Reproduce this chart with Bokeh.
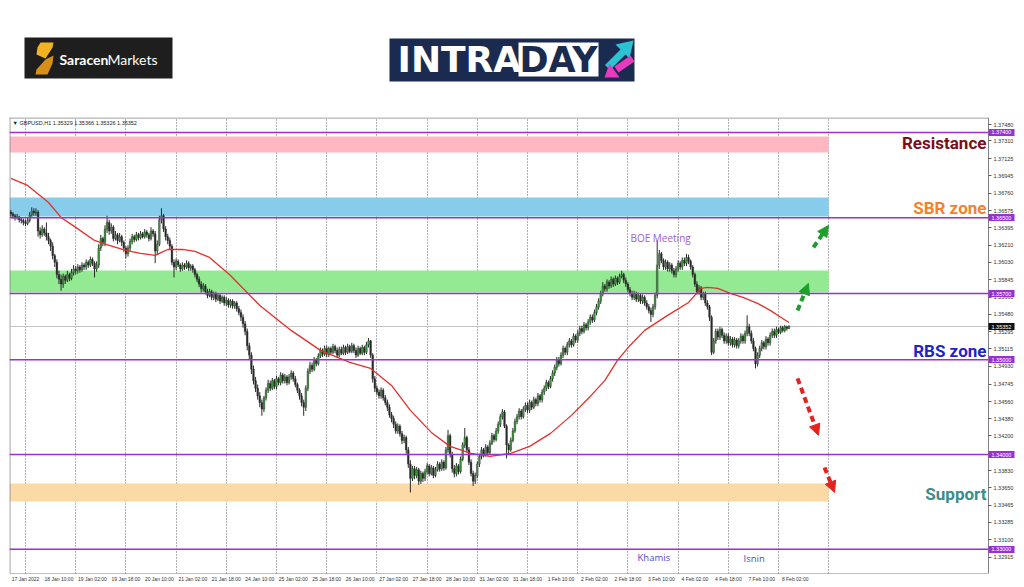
from bokeh.plotting import figure
from bokeh.layouts import column
from bokeh.models import (Range1d, FixedTicker, PrintfTickFormatter, BoxAnnotation,
                          Label, Arrow, NormalHead, ColumnDataSource, LinearAxis)
from bokeh.core.properties import value
from bokeh.embed import file_html
from bokeh.resources import INLINE

# ---------------- data (prices in units of 0.0001 above 1.3) ----------------
BASE = 1.3
SCALE = 10000.0
symbol_header = "\u25BC GBPUSD,H1  1.35329 1.35366 1.35326 1.35352"
first_bar = -7
first_open = 656
closes = [
    654, 652, 650, 651, 648, 647, 645,
    644, 647, 653, 657, 655, 656, 636, 632, 638, 634, 630, 626, 620, 610, 603, 590, 585, 580, 588, 584, 590, 586, 592, 596,
    594, 598, 595, 600, 598, 603, 600, 606, 602, 596, 600, 618, 628, 624, 638, 645, 636, 640, 628, 632, 626, 630, 624, 618,
    612, 618, 625, 630, 627, 632, 629, 633, 630, 635, 632, 628, 636, 633, 615, 622, 648, 652, 638, 630, 626, 620, 603, 598,
    604, 600, 596, 600, 598, 602, 597, 599, 595, 590, 585, 580, 575, 578, 572, 568, 572, 566, 570, 564, 568, 562, 566, 560,
    563, 558, 562, 557, 560, 554, 550, 545, 538, 530, 515, 505, 490, 478, 470, 462, 455, 448, 460, 468, 475, 470, 478, 472,
    480, 476, 484, 478, 482, 476, 482, 486, 480, 474, 468, 462, 455, 450, 470, 488, 494, 490, 500, 496, 504, 510, 506, 512,
    506, 512, 508, 514, 510, 505, 511, 507, 513, 508, 514, 509, 515, 510, 505, 512, 507, 513, 508, 516, 520, 505, 480, 470,
    466, 462, 468, 460, 455, 450, 442, 438, 432, 425, 430, 422, 415, 418, 405, 390, 375, 385, 378, 384, 372, 380, 375, 382,
    388, 380, 386, 378, 384, 390, 385, 392, 386, 405, 420, 400, 385, 380, 388, 382, 395, 410, 418, 405, 392, 380, 372, 378,
    390, 398, 405, 400, 408, 402, 412, 420, 416, 425, 432, 440, 445, 430, 410, 405, 415, 425, 435, 440, 446, 440, 448, 452,
    447, 455, 450, 458, 454, 462, 458, 466, 470, 476, 472, 480, 486, 492, 500, 496, 505, 512, 508, 516, 520, 516, 525, 521,
    528, 533, 530, 537, 534, 540, 545, 542, 550, 556, 562, 570, 578, 575, 582, 578, 585, 580, 586, 582, 588, 590, 584, 580,
    574, 570, 566, 570, 564, 568, 562, 566, 560, 556, 552, 548, 556, 568, 600, 612, 605, 598, 603, 596, 600, 594, 590, 596,
    602, 598, 605, 602, 608, 604, 598, 590, 580, 572, 576, 566, 570, 560, 556, 545, 508, 520, 530, 524, 532, 526, 520, 525,
    518, 522, 516, 521, 515, 520, 525, 520, 528, 535, 528, 520, 512, 496, 505, 512, 518, 514, 522, 518, 526, 530, 526, 532,
    529, 534, 531, 535, 533, 535.2,
]
highs = [
    658, 656, 654, 654, 652, 650, 649,
    648, 650, 656, 661, 660, 660, 658, 640, 642, 640, 645, 634, 628, 624, 612, 606, 594, 590, 591, 590, 594, 592, 596, 600,
    599, 601, 600, 603, 602, 606, 605, 609, 608, 604, 604, 622, 632, 630, 642, 652, 648, 644, 642, 636, 634, 634, 632, 626,
    620, 621, 628, 633, 632, 635, 634, 636, 635, 638, 637, 634, 640, 638, 636, 626, 652, 660, 654, 641, 633, 629, 622, 606,
    607, 606, 602, 603, 602, 605, 604, 601, 601, 597, 592, 588, 583, 581, 580, 575, 575, 574, 572, 572, 570, 570, 568, 568,
    566, 565, 564, 564, 562, 562, 557, 553, 548, 541, 533, 518, 508, 494, 482, 474, 466, 458, 462, 471, 479, 478, 481, 480,
    483, 482, 487, 486, 485, 484, 485, 489, 488, 483, 476, 470, 465, 458, 473, 491, 498, 497, 503, 502, 507, 513, 512, 515,
    515, 514, 514, 517, 516, 513, 514, 514, 516, 515, 517, 516, 518, 517, 513, 515, 514, 516, 515, 519, 523, 521, 507, 483,
    473, 469, 471, 470, 463, 458, 453, 445, 441, 435, 433, 432, 425, 421, 420, 408, 394, 388, 388, 387, 386, 383, 382, 385,
    391, 390, 389, 388, 387, 393, 392, 395, 394, 408, 426, 422, 403, 389, 391, 390, 398, 413, 428, 420, 408, 395, 383, 381,
    393, 401, 408, 407, 411, 410, 415, 423, 422, 428, 435, 443, 448, 447, 432, 412, 418, 428, 438, 443, 449, 448, 451, 455,
    455, 458, 457, 461, 460, 465, 464, 469, 473, 479, 478, 483, 489, 495, 503, 503, 508, 515, 514, 519, 523, 522, 528, 527,
    531, 536, 536, 540, 539, 543, 548, 548, 553, 559, 565, 573, 582, 580, 585, 584, 588, 587, 589, 588, 591, 594, 592, 587,
    582, 577, 573, 573, 572, 571, 570, 569, 568, 563, 559, 555, 559, 571, 626, 616, 614, 607, 606, 605, 603, 602, 597, 599,
    605, 604, 608, 608, 612, 611, 606, 600, 592, 583, 579, 578, 572, 572, 563, 558, 547, 523, 533, 533, 535, 534, 529, 528,
    528, 525, 524, 524, 523, 523, 528, 527, 531, 547, 538, 531, 523, 514, 508, 515, 521, 520, 525, 524, 529, 533, 533, 535,
    534, 536, 536, 537, 536, 536.6,
]
lows = [
    651, 649, 647, 648, 645, 644, 642,
    641, 642, 645, 651, 652, 652, 630, 628, 630, 631, 626, 622, 615, 606, 598, 586, 580, 573, 576, 580, 582, 583, 584, 589,
    590, 591, 592, 593, 595, 595, 597, 598, 599, 587, 593, 597, 615, 620, 620, 634, 632, 633, 625, 626, 622, 624, 620, 614,
    607, 609, 615, 622, 624, 625, 626, 627, 628, 628, 629, 625, 626, 630, 602, 611, 620, 644, 635, 626, 622, 616, 600, 587,
    595, 598, 593, 594, 595, 596, 594, 594, 592, 587, 582, 577, 571, 572, 569, 565, 566, 563, 563, 561, 562, 559, 560, 557,
    557, 555, 555, 554, 554, 551, 547, 541, 534, 526, 510, 500, 485, 474, 466, 458, 450, 441, 445, 457, 465, 467, 468, 469,
    469, 473, 473, 475, 475, 473, 474, 479, 477, 471, 465, 458, 451, 441, 446, 467, 485, 487, 488, 493, 494, 502, 503, 504,
    503, 503, 505, 506, 507, 502, 503, 505, 505, 505, 506, 507, 507, 507, 502, 503, 505, 505, 505, 506, 513, 502, 476, 466,
    463, 459, 459, 457, 452, 446, 439, 434, 428, 422, 422, 419, 411, 412, 401, 386, 360, 372, 374, 375, 368, 369, 371, 372,
    379, 377, 378, 375, 376, 382, 382, 383, 383, 384, 402, 397, 381, 376, 377, 379, 380, 393, 407, 402, 389, 377, 367, 369,
    375, 387, 395, 397, 398, 399, 400, 410, 413, 414, 422, 429, 437, 428, 396, 400, 403, 413, 423, 432, 437, 437, 438, 445,
    444, 444, 447, 448, 451, 451, 455, 455, 463, 467, 469, 470, 477, 483, 489, 493, 494, 502, 505, 505, 513, 513, 514, 518,
    518, 525, 527, 528, 531, 531, 537, 539, 540, 547, 553, 559, 567, 572, 572, 575, 576, 577, 578, 579, 580, 586, 581, 577,
    571, 567, 563, 563, 561, 561, 559, 559, 557, 553, 549, 540, 545, 553, 565, 596, 602, 595, 595, 593, 593, 591, 587, 587,
    593, 595, 595, 599, 599, 601, 595, 587, 577, 569, 569, 563, 563, 557, 553, 541, 505, 506, 517, 521, 521, 523, 517, 517,
    515, 515, 513, 513, 512, 512, 517, 517, 517, 525, 525, 517, 509, 491, 493, 502, 509, 511, 511, 515, 515, 523, 523, 523,
    527, 527, 529, 529, 531, 532.6,
]
assert len(closes) == len(highs) == len(lows) == 373

ma_bars = [-7, 1, 11, 17, 24, 33, 40, 48, 55, 62, 65, 68, 75, 81, 88, 98, 112, 127, 141, 155,
           165, 175, 184, 194, 203, 213, 222, 232, 241, 251, 261, 270, 277, 283, 289, 296, 307,
           317, 323, 326, 331, 337, 343, 350, 356, 362, 365]
ma_prices = [1.36915, 1.36841, 1.36661, 1.36503, 1.36398, 1.36260, 1.36208, 1.36155, 1.36123,
             1.36102, 1.36134, 1.36165, 1.36165, 1.36144, 1.36081, 1.35891, 1.35574, 1.35311,
             1.35100, 1.34973, 1.34910, 1.34730, 1.34467, 1.34234, 1.34087, 1.34013, 1.33981,
             1.34013, 1.34087, 1.34224, 1.34414, 1.34614, 1.34783, 1.34994, 1.35152, 1.35311,
             1.35469, 1.35606, 1.35754, 1.35764, 1.35754, 1.35701, 1.35659, 1.35596, 1.35522,
             1.35437, 1.35395]

level_prices = [1.37400, 1.36500, 1.35700, 1.35000, 1.34000, 1.33000]
current_price = 1.35352

zone_tops = [1.37358, 1.36714, 1.35944, 1.33696]
zone_bottoms = [1.37189, 1.36514, 1.35712, 1.33506]
zone_colors = ["#FFB7C2", "#87CDEB", "#93EA93", "#FDD9A6"]
zone_end_bar = 384

zone_texts = ["Resistance", "SBR zone", "RBS zone", "Support"]
zone_text_prices = [1.37284, 1.36598, 1.35090, 1.33580]
zone_text_colors = ["#7B0F1A", "#F5812F", "#1F24C8", "#3B8C8C"]

day_separator_bars = list(range(0, 385, 24))
x_label_bars = [-6] + list(range(10, 363, 16))
x_labels = ["17 Jan 2022", "18 Jan 10:00", "19 Jan 02:00", "19 Jan 18:00", "20 Jan 10:00",
            "21 Jan 02:00", "21 Jan 18:00", "24 Jan 10:00", "25 Jan 02:00", "25 Jan 18:00",
            "26 Jan 10:00", "27 Jan 02:00", "27 Jan 18:00", "28 Jan 10:00", "31 Jan 02:00",
            "31 Jan 18:00", "1 Feb 10:00", "2 Feb 02:00", "2 Feb 18:00", "3 Feb 10:00",
            "4 Feb 02:00", "4 Feb 18:00", "7 Feb 10:00", "8 Feb 02:00"]
y_tick_values = [1.37480, 1.37310, 1.37125, 1.36945, 1.36760, 1.36575, 1.36395, 1.36210,
                 1.36030, 1.35845, 1.35660, 1.35480, 1.35295, 1.35115, 1.34930, 1.34745,
                 1.34560, 1.34380, 1.34200, 1.34015, 1.33830, 1.33650, 1.33465, 1.33285,
                 1.33100, 1.32915, 1.32735]

# ---------------- header (logos) ----------------
# same left border as the chart below, so both frames line up
header = figure(width=1024, height=117, x_range=Range1d(9, 1024), y_range=Range1d(117, 0),
                x_axis_type=None, y_axis_type=None, output_backend="svg",
                toolbar_location=None, min_border=0, min_border_left=9)
header.grid.visible = False
header.outline_line_color = None
header.background_fill_color = "white"
header.border_fill_color = "white"

# Saracen Markets logo
header.quad(left=[24], right=[172], top=[37], bottom=[78], fill_color="#1E1E1E", line_color=None)
header.patch([40, 53, 52, 45, 36, 37], [42, 42, 47, 58, 54, 47], fill_color="#F2B320", line_color=None)
header.patch([45, 53, 52, 47, 35, 36], [59, 55, 63, 74, 74, 69], fill_color="#D68F17", line_color=None)
header.text(x=[59], y=[59], text=["Saracen"], text_font=value("Lato"), text_font_style="bold",
            text_font_size="14px", text_color="white", text_baseline="middle", text_align="left")
header.text(x=[107], y=[59], text=["Markets"], text_font=value("Lato"),
            text_font_size="14px", text_color="white", text_baseline="middle", text_align="left")

# INTRADAY logo
header.quad(left=[389], right=[634], top=[38], bottom=[81], fill_color="#1B2B4F", line_color=None)
header.quad(left=[518], right=[598], top=[42], bottom=[76], fill_color="white", line_color=None)
header.text(x=[397], y=[59], text=["INTRA"], text_font=value("DejaVu Sans"), text_font_style="bold",
            text_font_size="36px", text_color="white", text_baseline="middle", text_align="left")
header.text(x=[558], y=[59], text=["DAY"], text_font=value("DejaVu Sans"), text_font_style="bold",
            text_font_size="35px", text_color="#1B2B4F", text_baseline="middle", text_align="center")
header.line([607, 623], [67, 51], line_color="#2BC3D3", line_width=7)
header.patch([633, 615, 629], [40, 44, 58], fill_color="#2BC3D3", line_color=None)
header.line([632, 616], [58, 69], line_color="#E83ABF", line_width=7)
header.patch([604, 609, 619], [77, 63, 77], fill_color="#E83ABF", line_color=None)

# ---------------- price chart ----------------
# frame spans the whole width; the price scale is a fixed-location axis at the chart's right edge
x_lo, x_hi = -7.649, 477.60
price_axis_x = 460.39
y_lo, y_hi = 1.32745, 1.37558
chart = figure(width=1024, height=470, x_range=Range1d(x_lo, x_hi),
               y_range=Range1d(y_lo, y_hi), y_axis_location=None,
               output_backend="svg", toolbar_location=None,
               min_border_left=9, min_border_right=0, min_border_top=0, min_border_bottom=14)
chart.background_fill_color = "white"
chart.border_fill_color = "white"
chart.outline_line_color = None
chart.ygrid.visible = False
chart.xgrid.ticker = FixedTicker(ticks=day_separator_bars)
chart.xgrid.grid_line_color = "#606060"
chart.xgrid.grid_line_dash = "1 2"
chart.xgrid.grid_line_width = 1

# chart border (left, top, bottom)
chart.segment(x0=[x_lo + 0.2, x_lo, x_lo], y0=[y_lo, y_hi - 0.00005, y_lo],
              x1=[x_lo + 0.2, price_axis_x, price_axis_x], y1=[y_hi, y_hi - 0.00005, y_lo],
              line_color="#808080", line_width=1)

# zones
for top, bot, col in zip(zone_tops, zone_bottoms, zone_colors):
    chart.add_layout(BoxAnnotation(left=x_lo, right=zone_end_bar, top=top, bottom=bot,
                                   fill_color=col, fill_alpha=1.0, line_color=None, level="underlay"))

# current price line
chart.segment(x0=[x_lo], y0=[current_price], x1=[price_axis_x], y1=[current_price],
              line_color="#C4C4C4", line_width=1)

# candles
n = len(closes)
bars = [first_bar + i for i in range(n)]
opens = [first_open] + closes[:-1]
to_p = lambda v: BASE + v / SCALE
o_p = [to_p(v) for v in opens]
c_p = [to_p(v) for v in closes]
h_p = [to_p(v) for v in highs]
l_p = [to_p(v) for v in lows]
src = ColumnDataSource(dict(
    x=bars, o=o_p, c=c_p, h=h_p, l=l_p,
    top=[max(a, b) for a, b in zip(o_p, c_p)],
    bottom=[min(a, b) for a, b in zip(o_p, c_p)],
    fill=["#3E9E3E" if c >= o else "#2A2A2A" for o, c in zip(o_p, c_p)],
))
chart.segment(x0="x", y0="l", x1="x", y1="h", source=src, line_color="#2A2A2A", line_width=1)
chart.vbar(x="x", width=0.8, top="top", bottom="bottom", source=src,
           fill_color="fill", line_color="#2A2A2A", line_width=0.4)

# moving average
chart.line(ma_bars, ma_prices, line_color="#E2302C", line_width=1.3)

# level lines
chart.segment(x0=[x_lo] * len(level_prices), y0=level_prices,
              x1=[price_axis_x] * len(level_prices), y1=level_prices,
              line_color="#9B30D0", line_width=1.5)

# price scale
price_axis = LinearAxis(fixed_location=price_axis_x, ticker=FixedTicker(ticks=y_tick_values),
                        formatter=PrintfTickFormatter(format="%.5f"),
                        axis_line_color="#808080", major_tick_line_color="#606060",
                        major_tick_out=3, major_tick_in=0, minor_tick_line_color=None,
                        major_label_standoff=2, major_label_text_color="#333333",
                        major_label_text_font_size="5.5px", major_label_text_font="Liberation Sans")
chart.add_layout(price_axis, "right")

# highlighted price tags: thick ticks form coloured tags behind white labels
for ticks, tag_color in ((level_prices, "#9B30D0"), ([current_price], "#111111")):
    tag_axis = LinearAxis(fixed_location=price_axis_x, ticker=FixedTicker(ticks=ticks),
                          formatter=PrintfTickFormatter(format="%.5f"),
                          axis_line_color=None, major_tick_line_color=tag_color,
                          major_tick_line_width=7, major_tick_out=26, major_tick_in=0,
                          minor_tick_line_color=None, major_label_standoff=-23,
                          major_label_text_color="white", major_label_text_font_size="5.5px",
                          major_label_text_font="Liberation Sans")
    chart.add_layout(tag_axis, "right")

# time axis
x_tick_pos = [b + 6 for b in x_label_bars]
chart.xaxis.ticker = FixedTicker(ticks=x_tick_pos)
chart.xaxis.major_label_overrides = {t: s for t, s in zip(x_tick_pos, x_labels)}
chart.xaxis.major_label_text_font = "Liberation Sans"
chart.xaxis.major_label_text_font_size = "5px"
chart.xaxis.major_label_text_color = "#333333"
chart.xaxis.axis_line_color = None
chart.xaxis.major_tick_out = 0
chart.xaxis.major_tick_in = 0
chart.xaxis.minor_tick_line_color = None
chart.xaxis.major_label_standoff = 2

# zone names
for txt, yv, col in zip(zone_texts, zone_text_prices, zone_text_colors):
    chart.add_layout(Label(x=459.4, y=yv, text=txt, text_font="Roboto", text_font_style="bold",
                           text_font_size="17px", text_color=col, text_align="right",
                           text_baseline="middle"))

# other texts
chart.add_layout(Label(x=-6.2, y=1.37505, text=symbol_header, text_font="Liberation Sans",
                       text_font_size="5.5px", text_color="#222222", text_baseline="middle"))
chart.add_layout(Label(x=289.2, y=1.36282, text="BOE Meeting", text_font="Open Sans",
                       text_font_size="10px", text_color="#A05CD8", text_baseline="middle"))
chart.add_layout(Label(x=292.6, y=1.32916, text="Khamis", text_font="Open Sans",
                       text_font_size="9.5px", text_color="#4B4BCB", text_baseline="middle"))
chart.add_layout(Label(x=343.3, y=1.32906, text="Isnin", text_font="Open Sans",
                       text_font_size="9.5px", text_color="#4B4BCB", text_baseline="middle"))

# dashed projection arrows
arrow_specs = [
    (369.1, 1.35520, 374.3, 1.35807, "#1E9E2A"),
    (376.7, 1.36187, 383.9, 1.36419, "#1E9E2A"),
    (369.1, 1.34804, 379.1, 1.34203, "#E42320"),
    (382.0, 1.33865, 386.8, 1.33601, "#E42320"),
]
for xs, ys, xe, ye, col in arrow_specs:
    chart.add_layout(Arrow(x_start=xs, y_start=ys, x_end=xe, y_end=ye, line_color=col,
                           line_width=4, line_dash="6 4",
                           end=NormalHead(size=11, fill_color=col, line_color=col)))

layout = column(header, chart, spacing=0)
open("out.html", "w").write(file_html(layout, INLINE))
